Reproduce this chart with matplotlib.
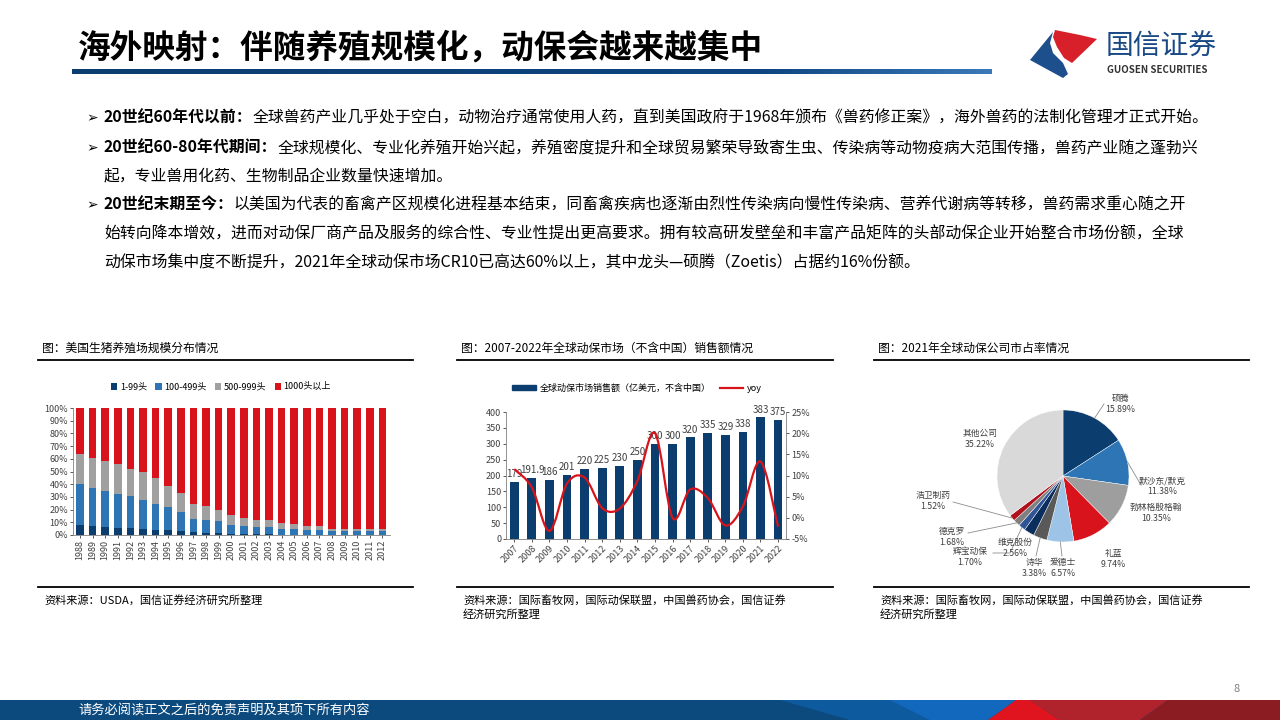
import numpy as np
import matplotlib
matplotlib.use('Agg')
import matplotlib.pyplot as plt
from matplotlib.path import Path
from matplotlib.patches import PathPatch, Polygon, Rectangle
from matplotlib.lines import Line2D
from matplotlib.colors import LinearSegmentedColormap

plt.rcParams['font.family'] = ['Noto Sans CJK SC', 'DejaVu Sans']
plt.rcParams['axes.unicode_minus'] = False

# ---- chart 1: US hog farm size distribution (%)
years1 = ['1988', '1989', '1990', '1991', '1992', '1993', '1994', '1995', '1996',
          '1997', '1998', '1999', '2000', '2001', '2002', '2003', '2004', '2005',
          '2006', '2007', '2008', '2009', '2010', '2011', '2012']
share_1_99 = [8, 7, 6.5, 5.5, 5.5, 4.7, 4, 4, 3.2, 2.4, 1.6, 1.6, 0.5, 0.5, 0.4,
              0.4, 0.3, 0.3, 0.3, 0.3, 0.2, 0.2, 0.2, 0.2, 0.2]
share_100_499 = [32, 30, 28.5, 27, 25.5, 23, 20.5, 18, 14.8, 10.2, 10.2, 9.4, 7.4,
                 6.6, 5.9, 5.9, 4.4, 4.4, 3.7, 3.7, 3.0, 3.0, 3.0, 3.0, 3.0]
share_500_999 = [24, 24, 23.5, 23.5, 21, 22, 20.5, 16.7, 15, 11.9, 11.1, 8.7, 7.9,
                 6.3, 5.5, 5.5, 4.8, 4.0, 3.1, 3.1, 1.5, 1.5, 1.5, 1.5, 1.5]
share_1000 = [36, 39, 41.5, 44, 48, 50.3, 55, 61.3, 67, 75.5, 77.1, 80.3, 84.2,
              86.6, 88.2, 88.2, 90.5, 91.3, 92.9, 92.9, 95.3, 95.3, 95.3, 95.3, 95.3]
series1_names = ['1-99头', '100-499头', '500-999头', '1000头以上']

# ---- chart 2: global animal health market sales (100m USD, ex China)
years2 = ['2007', '2008', '2009', '2010', '2011', '2012', '2013', '2014',
          '2015', '2016', '2017', '2018', '2019', '2020', '2021', '2022']
sales = [179, 191.9, 186, 201, 220, 225, 230, 250, 300, 300, 320, 335, 329, 338, 383, 375]
sales_labels = ['179', '191.9', '186', '201', '220', '225', '230', '250', '300',
                '300', '320', '335', '329', '338', '383', '375']
yoy = [11.5, 7.2, -3.1, 8.1, 9.5, 2.3, 2.2, 8.7, 20.0, 0.0, 6.7, 4.7, -1.8, 2.7, 13.3, -2.1]

# ---- chart 3: 2021 company market share (%)
companies = ['硕腾', '默沙东/默克', '勃林格殷格翰', '礼蓝', '爱德士', '诗华',
             '维克股份', '辉宝动保', '德克罗', '浩卫制药', '其他公司']
shares = [15.89, 11.38, 10.35, 9.74, 6.57, 3.38, 2.56, 1.70, 1.68, 1.52, 35.22]

NAVY = '#0B3D6E'
BLUE = '#2E75B6'
GREY = '#A0A0A0'
RED = '#D9131B'

fig = plt.figure(figsize=(12.8, 7.2), dpi=100)

bg = fig.add_axes([0, 0, 1, 1])
bg.set_xlim(0, 1280)
bg.set_ylim(720, 0)
bg.axis('off')


def add_px_axes(l, t, r, b):
    return fig.add_axes([l / 1280, 1 - b / 720, (r - l) / 1280, (b - t) / 720])


# ---- header
bg.text(78, 48, '海外映射：伴随养殖规模化，动保会越来越集中', fontsize=23.5,
        fontweight='bold', va='center', ha='left', color='black')
grad = np.linspace(0, 1, 400)[None, :]
cm_bar = LinearSegmentedColormap.from_list('bar', [(0, '#0B3D70'), (0.75, '#0E4580'), (1, '#3A78B8')])
bg.imshow(grad, cmap=cm_bar, extent=[72, 992, 74, 69], aspect='auto', zorder=2)

# logo
bg.add_patch(Polygon([(1030, 60), (1053, 32), (1050, 43), (1053, 53), (1063, 63),
                      (1068, 74), (1063, 78), (1030, 60)], closed=True,
                     facecolor='#1D4F8C', edgecolor='none'))
bg.add_patch(Polygon([(1055, 30), (1080, 35), (1097, 39), (1072, 63), (1064, 58),
                      (1057, 47), (1053, 37)], closed=True,
                     facecolor='#D7202A', edgecolor='none'))
bg.text(1106, 47, '国信证券', fontsize=20, color='#1A4A86', va='center', ha='left')
bg.text(1107, 70, 'GUOSEN SECURITIES', fontsize=7, fontweight='bold',
        color='#333333', va='center', ha='left')

# ---- body text
FS = 11.4
body = [
    ('20世纪60年代以前：', '全球兽药产业几乎处于空白，动物治疗通常使用人药，直到美国政府于1968年颁布《兽药修正案》，海外兽药的法制化管理才正式开始。', 118, True),
    ('20世纪60-80年代期间：', '全球规模化、专业化养殖开始兴起，养殖密度提升和全球贸易繁荣导致寄生虫、传染病等动物疫病大范围传播，兽药产业随之蓬勃兴', 148, True),
    ('', '起，专业兽用化药、生物制品企业数量快速增加。', 176, False),
    ('20世纪末期至今：', '以美国为代表的畜禽产区规模化进程基本结束，同畜禽疾病也逐渐由烈性传染病向慢性传染病、营养代谢病等转移，兽药需求重心随之开', 205, True),
    ('', '始转向降本增效，进而对动保厂商产品及服务的综合性、专业性提出更高要求。拥有较高研发壁垒和丰富产品矩阵的头部动保企业开始整合市场份额，全球', 234, False),
    ('', '动保市场集中度不断提升，2021年全球动保市场CR10已高达60%以上，其中龙头—硕腾（Zoetis）占据约16%份额。', 263, False),
]
for head, rest, y, bullet in body:
    if bullet:
        bg.text(86, y, '➢', fontsize=10, va='center', ha='left', color='black',
                family=['DejaVu Sans'])
    if head:
        t = bg.text(104, y, head, fontsize=FS, fontweight='bold',
                    va='center', ha='left', color='black')
        bg.annotate(rest, xy=(1, 0), xycoords=t, va='bottom', ha='left',
                    fontsize=FS, color='black')
    else:
        bg.text(104, y, rest, fontsize=FS, va='center', ha='left', color='black')

# ---- chart frames / titles / sources
frames = [(38, 413, '图：美国生猪养殖场规模分布情况', ['资料来源：USDA，国信证券经济研究所整理']),
          (457, 833, '图：2007-2022年全球动保市场（不含中国）销售额情况',
           ['资料来源：国际畜牧网，国际动保联盟，中国兽药协会，国信证券', '经济研究所整理']),
          (874, 1249, '图：2021年全球动保公司市占率情况',
           ['资料来源：国际畜牧网，国际动保联盟，中国兽药协会，国信证券', '经济研究所整理'])]
for x0, x1, title, src in frames:
    bg.text(x0 + 4, 348, title, fontsize=8.5, va='center', ha='left', color='black')
    bg.plot([x0, x1], [360, 360], color='black', lw=1.3)
    bg.plot([x0, x1], [587, 587], color='black', lw=1.3)
    for k, s in enumerate(src):
        bg.text(x0 + 6, 600 + 14 * k, s, fontsize=8, va='center', ha='left', color='black')

# ---- footer
bg.add_patch(Rectangle((0, 700), 1280, 20, facecolor='#0C4A7E', edgecolor='none'))
bg.add_patch(Polygon([(780, 700), (1016, 700), (988, 720), (850, 720)], facecolor='#0D5A9E', edgecolor='none'))
bg.add_patch(Polygon([(890, 700), (1016, 700), (988, 720), (930, 720)], facecolor='#1168BC', edgecolor='none'))
bg.add_patch(Polygon([(1016, 700), (1030, 700), (1060, 720), (988, 720)], facecolor='#E0141E', edgecolor='none'))
bg.add_patch(Polygon([(1030, 700), (1168, 700), (1140, 720), (1060, 720)], facecolor='#B0232D', edgecolor='none'))
bg.add_patch(Polygon([(1168, 700), (1280, 700), (1280, 720), (1140, 720)], facecolor='#8B1C22', edgecolor='none'))
bg.text(78, 711, '请务必阅读正文之后的免责声明及其项下所有内容', fontsize=9.5,
        color='white', va='center', ha='left')
bg.text(1237, 689, '8', fontsize=8, color='#7F7F7F', va='center', ha='center')

# ---- chart 1
ax1 = add_px_axes(73, 408, 390, 535)
x1 = np.arange(len(years1))
bottom = np.zeros(len(years1))
for vals, col, name in zip([share_1_99, share_100_499, share_500_999, share_1000],
                           [NAVY, BLUE, GREY, RED], series1_names):
    ax1.bar(x1, vals, bottom=bottom, width=0.6, color=col, label=name)
    bottom = bottom + np.array(vals)
ax1.set_xlim(-0.55, 24.6)
ax1.set_ylim(0, 100)
ax1.set_yticks(range(0, 101, 10))
ax1.set_yticklabels([f'{v}%' for v in range(0, 101, 10)])
ax1.set_xticks(x1)
ax1.set_xticklabels(years1, rotation=90)
ax1.tick_params(labelsize=6.5, length=2, width=0.6, pad=1.5, colors='#404040')
for s in ['top', 'right']:
    ax1.spines[s].set_visible(False)
for s in ['left', 'bottom']:
    ax1.spines[s].set_color('#808080')
    ax1.spines[s].set_linewidth(0.6)
ax1.legend(ncol=4, loc='center', bbox_to_anchor=(221 / 1280, 1 - 387 / 720),
           bbox_transform=fig.transFigure, frameon=False, fontsize=6.5,
           handlelength=0.7, handleheight=0.7, handletextpad=0.3, columnspacing=0.9)

# ---- chart 2
ax2 = add_px_axes(506, 412, 786, 539)
x2 = np.arange(len(years2))
ax2.bar(x2, sales, width=0.5, color=NAVY, label='全球动保市场销售额（亿美元，不含中国）')
for xi, v, lab in zip(x2, sales, sales_labels):
    ax2.annotate(lab, (xi, v), xytext=(0, 2), textcoords='offset points',
                 ha='center', va='bottom', fontsize=7, color='#404040')
ax2.set_xlim(-0.47, 15.45)
ax2.set_ylim(0, 400)
ax2.set_yticks(range(0, 401, 50))
ax2.set_xticks(x2)
ax2.set_xticklabels(years2, rotation=45, ha='right', rotation_mode='anchor')
ax2.tick_params(labelsize=6.5, length=2, width=0.6, pad=1.5, colors='#404040')
for s in ['top', 'right']:
    ax2.spines[s].set_visible(False)
for s in ['left', 'bottom']:
    ax2.spines[s].set_color('#808080')
    ax2.spines[s].set_linewidth(0.6)

ax2r = ax2.twinx()
ax2r.set_ylim(-5, 25)
ax2r.set_yticks(range(-5, 26, 5))
ax2r.set_yticklabels([f'{v}%' for v in range(-5, 26, 5)])
ax2r.tick_params(labelsize=6.5, length=2, width=0.6, pad=2, colors='#404040')
for s in ['top', 'left', 'bottom']:
    ax2r.spines[s].set_visible(False)
ax2r.spines['right'].set_color('#808080')
ax2r.spines['right'].set_linewidth(0.6)

# smoothed yoy line (Excel-style bezier through the points)
n = len(yoy)
verts = [(x2[0], yoy[0])]
codes = [Path.MOVETO]
for i in range(n - 1):
    p0 = np.array([x2[max(i - 1, 0)], yoy[max(i - 1, 0)]])
    p1 = np.array([x2[i], yoy[i]])
    p2 = np.array([x2[i + 1], yoy[i + 1]])
    p3 = np.array([x2[min(i + 2, n - 1)], yoy[min(i + 2, n - 1)]])
    c1 = p1 + (p2 - p0) / 6
    c2 = p2 - (p3 - p1) / 6
    verts += [tuple(c1), tuple(c2), tuple(p2)]
    codes += [Path.CURVE4] * 3
ax2r.add_patch(PathPatch(Path(verts, codes), facecolor='none', edgecolor='#D7141A', lw=1.6))

handles = [Rectangle((0, 0), 1, 1, color=NAVY), Line2D([0], [0], color='#D7141A', lw=1.6)]
ax2.legend(handles, ['全球动保市场销售额（亿美元，不含中国）', 'yoy'], ncol=2, loc='center',
           bbox_to_anchor=(637 / 1280, 1 - 388 / 720), bbox_transform=fig.transFigure,
           frameon=False, fontsize=6.5, handlelength=2.6, handleheight=0.6,
           handletextpad=0.4, columnspacing=1.0)

# ---- chart 3
R = 66.0
cx, cy = 1063, 476
pl, pt, pr, pb = 900, 380, 1230, 590
ax3 = add_px_axes(pl, pt, pr, pb)
pie_colors = [NAVY, BLUE, '#9E9E9E', RED, '#9DC3E6', '#595959', '#0B2E5C',
              '#2F5597', '#7F7F7F', '#B0121B', '#D9D9D9']
wedges, _ = ax3.pie(shares, colors=pie_colors, startangle=90, counterclock=False,
                    radius=1.0, wedgeprops=dict(edgecolor='white', linewidth=0.3))
ax3.set_aspect('auto')
ax3.set_xlim((pl - cx) / R, (pr - cx) / R)
ax3.set_ylim((cy - pb) / R, (cy - pt) / R)
ax3.axis('off')


def to_u(px, py):
    return ((px - cx) / R, (cy - py) / R)


label_pos = [(1120, 404), (1162, 486), (1156, 513), (1113, 559), (1063, 568),
             (1034, 568), (1015, 548), (970, 557), (952, 537), (933, 501), (980, 439)]
leaders = {0: [(1104, 404)], 1: [(1141, 485)], 4: [(1062, 556)], 5: [(1036, 556)],
           7: [(1010, 553), (993, 553)], 8: [(968, 533)], 9: [(953, 502)]}
for i, (w, name, val) in enumerate(zip(wedges, companies, shares)):
    lx, ly = to_u(*label_pos[i])
    ax3.text(lx, ly, f'{name}\n{val:.2f}%', fontsize=6.3, color='#404040',
             ha='center', va='center', linespacing=1.2)
    if i in leaders:
        ang = np.deg2rad((w.theta1 + w.theta2) / 2)
        pts = [(np.cos(ang), np.sin(ang))] + [to_u(*p) for p in leaders[i]]
        ax3.plot([p[0] for p in pts], [p[1] for p in pts], color='#8C8C8C', lw=0.6)

fig.savefig('out.png', dpi=100)
